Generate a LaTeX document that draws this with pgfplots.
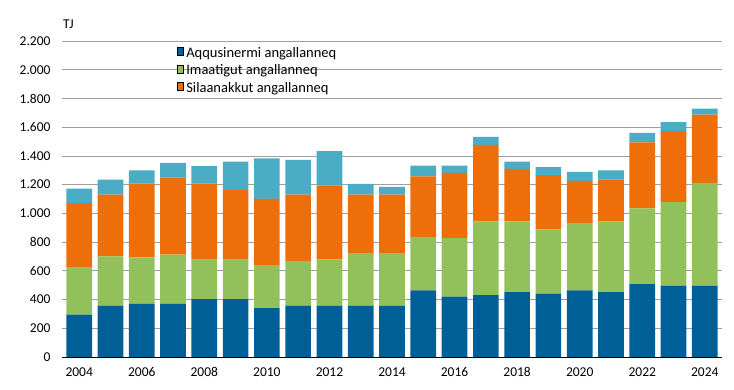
\documentclass[border=0pt]{standalone}
\usepackage{pgfplots}
\pgfplotsset{compat=1.18}
\usepackage{pgfplotstable}
\usepackage{fontspec}
\setmainfont{Carlito}
\definecolor{cdblue}{HTML}{005F96}
\definecolor{cgreen}{HTML}{92C05A}
\definecolor{corange}{HTML}{EE6E0A}
\definecolor{clblue}{HTML}{4BACC6}
\pgfplotstableread{
year blue green orange lblue
2004 295 331 446 100
2005 358 342 430 105
2006 370 323 514 93
2007 370 342 537 103
2008 403 279 525 121
2009 403 279 481 198
2010 340 300 460 282
2011 358 312 460 242
2012 358 322 515 238
2013 358 366 406 75
2014 358 366 406 54
2015 463 374 421 75
2016 421 407 454 51
2017 430 514 533 56
2018 451 493 366 51
2019 442 446 379 55
2020 463 470 293 63
2021 451 493 293 63
2022 507 528 460 66
2023 495 585 492 63
2024 495 717 475 42
}\data
\begin{document}
\begin{tikzpicture}
\path[use as bounding box] (-62pt,-33pt) rectangle (672pt,357pt);
\begin{axis}[
  scale only axis, width=660pt, height=316pt, clip=false,
  font=\fontsize{13.5}{15}\selectfont,
  ybar stacked, bar width=0.82,
  xmin=2003.45, xmax=2024.55,
  ymin=0, ymax=2200,
  ytick={0,200,...,2200},
  xtick={2004,2006,...,2024},
  xticklabels={2004,2006,2008,2010,2012,2014,2016,2018,2020,2022,2024},
  axis x line*=bottom, axis y line*=left,
  y axis line style={draw=none},
  x axis line style={black, line width=0.8pt, -},
  major tick length=0pt,
  ymajorgrids, grid style={gray!75, line width=0.7pt},
  /pgf/number format/1000 sep={.},
  /pgf/number format/assume math mode=true,
  yticklabel style={xshift=-8pt},
  xticklabel style={yshift=-7pt},
  legend style={draw=none, fill=none, at={(rel axis cs:0.173,0.99)}, anchor=north west,
    font=\fontsize{14.5}{16}\selectfont, row sep=2pt, inner sep=1pt,
    nodes={inner xsep=2.5pt},
    legend image code/.code={\fill[#1] (0pt,-4pt) rectangle (8pt,4pt);}},
  legend cell align=left,
]
\addplot[fill=cdblue, draw=none] table[x=year, y=blue] {\data};
\addplot[fill=cgreen, draw=none] table[x=year, y=green] {\data};
\addplot[fill=corange, draw=none] table[x=year, y=orange] {\data};
\addplot[fill=clblue, draw=none, forget plot] table[x=year, y=lblue] {\data};
\legend{Aqqusinermi angallanneq, Imaatigut angallanneq, Silaanakkut angallanneq}
\node[anchor=west, font=\fontsize{13.5}{15}\selectfont, inner sep=0pt] at (rel axis cs:0,1) [yshift=17pt, xshift=1pt] {TJ};
\end{axis}
\end{tikzpicture}
\end{document}
